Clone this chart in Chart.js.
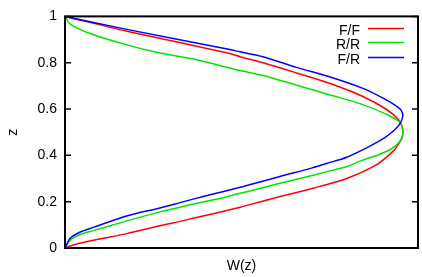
<!DOCTYPE html>
<html>
<head>
<meta charset="utf-8">
<script src="https://cdn.jsdelivr.net/npm/chart.js@4/dist/chart.umd.min.js"></script>
<style>
  html, body { margin: 0; padding: 0; background: #fff; }
  #wrap { width: 422px; height: 277px; }
</style>
</head>
<body>
<div id="wrap"><canvas id="chart"></canvas></div>
<script>
// Profiles W(z) (W in arbitrary units, 0..1 across the plot).
const labels = ['F/F', 'R/R', 'F/R'];
const colors = ['#ff0000', '#00e600', '#0000ff'];

const ffW = [0, 0.024, 0.080, 0.175, 0.269, 0.326, 0.363, 0.420, 0.496, 0.515, 0.609, 0.703, 0.722, 0.798, 0.883, 0.929, 0.940, 0.954, 0.957, 0.954, 0.944, 0.911, 0.844, 0.751, 0.656, 0.561, 0.496, 0.467, 0.175, 0];
const ffZ = [0, 0.013, 0.033, 0.062, 0.096, 0.115, 0.128, 0.148, 0.176, 0.184, 0.222, 0.258, 0.266, 0.300, 0.360, 0.417, 0.438, 0.473, 0.494, 0.528, 0.556, 0.598, 0.654, 0.710, 0.756, 0.800, 0.826, 0.840, 0.936, 1];

const rrW = [0, 0.014, 0.042, 0.080, 0.175, 0.269, 0.326, 0.363, 0.420, 0.496, 0.515, 0.609, 0.703, 0.722, 0.798, 0.836, 0.892, 0.915, 0.935, 0.948, 0.956, 0.957, 0.949, 0.911, 0.844, 0.751, 0.656, 0.561, 0.496, 0.467, 0.363, 0.269, 0.175, 0.071, 0.014, 0];
const rrZ = [0, 0.033, 0.057, 0.075, 0.117, 0.156, 0.176, 0.190, 0.208, 0.236, 0.243, 0.280, 0.314, 0.322, 0.352, 0.375, 0.405, 0.420, 0.440, 0.460, 0.485, 0.510, 0.543, 0.577, 0.619, 0.661, 0.703, 0.745, 0.766, 0.777, 0.816, 0.842, 0.877, 0.926, 0.968, 1];

const frW = [0, 0.014, 0.042, 0.080, 0.175, 0.269, 0.326, 0.363, 0.420, 0.496, 0.515, 0.609, 0.703, 0.741, 0.798, 0.864, 0.905, 0.930, 0.948, 0.957, 0.952, 0.940, 0.901, 0.844, 0.751, 0.656, 0.561, 0.496, 0.467, 0.175, 0];
const frZ = [0, 0.041, 0.068, 0.089, 0.138, 0.173, 0.196, 0.211, 0.233, 0.262, 0.270, 0.309, 0.347, 0.365, 0.392, 0.440, 0.475, 0.505, 0.535, 0.570, 0.595, 0.612, 0.647, 0.689, 0.738, 0.780, 0.826, 0.847, 0.857, 0.944, 1];

const yTicks = [0, 0.2, 0.4, 0.6, 0.8, 1];

const FONT = { family: 'Liberation Sans, Arial, sans-serif', size: 14 };

const toPoints = (ws, zs) => ws.map((w, i) => ({ x: w, y: zs[i] }));
const series = [toPoints(ffW, ffZ), toPoints(rrW, rrZ), toPoints(frW, frZ)];

// Frame, inward ticks on both sides, and the gnuplot-style key.
const framePlugin = {
    id: 'frame',
    afterDraw(chart) {
        const { ctx, chartArea: a, scales } = chart;
        ctx.save();
        ctx.strokeStyle = '#000';
        ctx.lineWidth = 2;
        ctx.strokeRect(a.left, a.top, a.right - a.left, a.bottom - a.top);
        ctx.lineWidth = 1.5;
        yTicks.forEach(v => {
            const y = scales.y.getPixelForValue(v);
            ctx.beginPath();
            ctx.moveTo(a.left, y); ctx.lineTo(a.left + 6, y);
            ctx.moveTo(a.right, y); ctx.lineTo(a.right - 6, y);
            ctx.stroke();
        });

        ctx.font = `${FONT.size}px ${FONT.family}`;
        ctx.textAlign = 'right';
        ctx.textBaseline = 'alphabetic';
        const rows = [12, 26, 41];
        chart.data.datasets.forEach((ds, i) => {
            const y = a.top + rows[i];
            ctx.fillStyle = '#000';
            ctx.fillText(ds.label, a.right - 58, y + 7);
            ctx.strokeStyle = ds.borderColor;
            ctx.lineWidth = 1.5;
            ctx.beginPath();
            ctx.moveTo(a.right - 50, y);
            ctx.lineTo(a.right - 14, y);
            ctx.stroke();
        });
        ctx.restore();
    }
};

new Chart(document.getElementById('chart'), {
    type: 'scatter',
    data: {
        datasets: series.map((pts, i) => ({
            label: labels[i],
            data: pts,
            showLine: true,
            borderColor: colors[i],
            backgroundColor: colors[i],
            borderWidth: 1.5,
            pointRadius: 0,
            tension: 0.3,
            order: 3 - i,
        })),
    },
    options: {
        responsive: true,
        maintainAspectRatio: false,
        animation: false,
        layout: { padding: { left: 0, right: 4, top: 9, bottom: 0 } },
        plugins: {
            legend: { display: false },
            tooltip: { enabled: false },
        },
        scales: {
            x: {
                type: 'linear',
                min: 0,
                max: 1,
                grid: { display: false },
                border: { display: false },
                ticks: { display: false },
                title: { display: true, text: 'W(z)', color: '#000', font: FONT, padding: { top: 0, bottom: 2 } },
                afterFit(scale) { scale.height = 29; },
            },
            y: {
                type: 'linear',
                min: 0,
                max: 1,
                grid: { display: false, drawTicks: false },
                border: { display: false },
                afterBuildTicks(scale) { scale.ticks = yTicks.map(v => ({ value: v })); },
                ticks: {
                    color: '#000',
                    font: FONT,
                    padding: 8,
                    callback: v => String(Math.round(v * 10) / 10),
                },
                title: { display: true, text: 'z', color: '#000', font: FONT, padding: { top: 5, bottom: 0 } },
                afterFit(scale) { scale.width = 65; },
            },
        },
    },
    plugins: [framePlugin],
});
</script>
</body>
</html>
